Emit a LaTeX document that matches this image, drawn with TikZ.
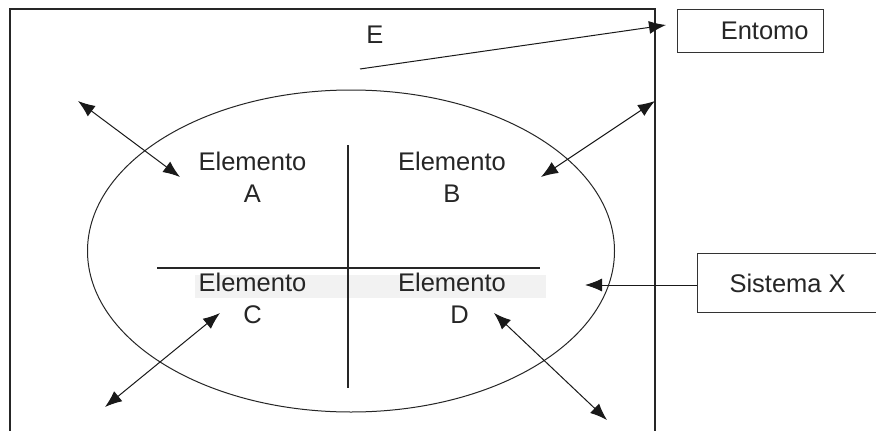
\documentclass[tikz,border=0pt]{standalone}
\usepackage{fontspec}
\setmainfont{Liberation Sans}
\usetikzlibrary{positioning,arrows.meta,calc,shapes.geometric}

\begin{document}
\begin{tikzpicture}[
    x=1pt, y=-1pt,
    font=\fontsize{25.5}{32}\selectfont,
    txt/.style={text=black!85, inner sep=0pt, align=center},
    box/.style={draw, black!80, line width=1.3pt, minimum height=59pt,
                text=black!85},
    edge/.style={black!85, line width=1.2pt},
    link/.style={{Latex[length=17pt,width=13pt]}-{Latex[length=17pt,width=13pt]},
                 black!90, line width=1pt},
    feed/.style={-{Latex[length=17pt,width=13pt]}, black!90,
                 line width=1pt},
  ]
  \clip (0,0) rectangle (876,431);
  \fill[white] (0,0) rectangle (876,431);

  % --- environment frame ---
  \draw[edge] (10,440) -- (10,9) -- (655,9) -- (655,440);
  \node[txt, anchor=base] (e) at (375,43) {E};
  \node[box, minimum width=146pt, minimum height=43pt, text width=116pt,
        inner xsep=15pt, align=right, anchor=north west] (ent) at (677,9)
    {Entomo};
  \coordinate (eout) at (360,69);
  \coordinate (ein) at (666,25);
  \draw[feed] (eout) -- (ein);

  % --- system ---
  \fill[black!5] (195,275) rectangle (546,298);
  \node[draw, ellipse, black!85, line width=1pt, minimum width=527pt,
        minimum height=322pt, inner sep=0pt] (sys) at (351,251) {};
  \coordinate (vtop) at (348,145);
  \coordinate (vbot) at (348,388);
  \coordinate (hl) at (157,268);
  \coordinate (hr) at (540,268);
  \draw[edge] (vtop) -- (vbot);
  \draw[edge] (hl) -- (hr);

  \node[txt, anchor=base] (ea) at (252.5,202) {Elemento\\A};
  \node[txt, anchor=base] (eb) at (452,202) {Elemento\\B};
  \node[txt, anchor=base] (ec) at (252.5,323) {Elemento\\C};
  \node[txt, anchor=base] (ed) at (452,323) {Elemento\\\hspace*{15pt}D};

  % --- exchanges with the environment ---
  \coordinate (aout) at (78,101);
  \coordinate (ain) at (180,177);
  \coordinate (bout) at (655,101);
  \coordinate (bin) at (541,177);
  \coordinate (cout) at (105,407);
  \coordinate (cin) at (220,313);
  \coordinate (dout) at (607,420);
  \coordinate (din) at (494,313);
  \draw[link] (aout) -- (ain);
  \draw[link] (bout) -- (bin);
  \draw[link] (cout) -- (cin);
  \draw[link] (dout) -- (din);

  % --- label box ---
  \node[box, minimum width=200pt, anchor=north west] (sx) at (697,253)
    {\hspace*{-20pt}Sistema X};
  \coordinate (sin) at (585,285);
  \draw[feed] (sx.west |- sin) -- (sin);
\end{tikzpicture}
\end{document}
